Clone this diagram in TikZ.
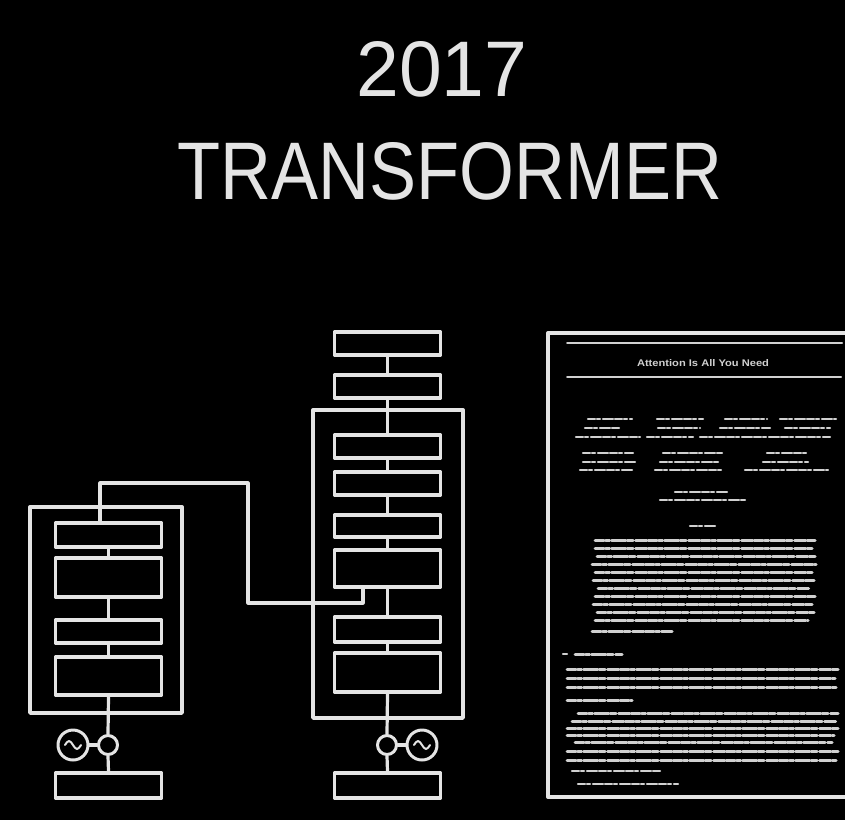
\documentclass[tikz,border=0pt]{standalone}
\usepackage{fontspec}
\setmainfont{Liberation Sans}
\usepackage{graphicx}
\usetikzlibrary{calc}
\definecolor{chalk}{HTML}{E4E4E4}
\definecolor{chalkdim}{HTML}{D0D0D0}
\begin{document}
\begin{tikzpicture}[x=1pt,y=-1pt,line cap=round,line join=round,
  blk/.style={draw=chalk,line width=3.4pt,rectangle,inner sep=0pt,minimum width=106pt},
  frm/.style={draw=chalk,line width=3.4pt,rectangle,inner sep=0pt},
  smallc/.style={draw=chalk,line width=3pt,circle,inner sep=0pt,minimum size=19pt},
  bigc/.style={draw=chalk,line width=3pt,circle,inner sep=0pt,minimum size=30pt},
  wire/.style={draw=chalk,line width=3.2pt},
  sine/.style={draw=chalk,line width=2pt},
  border/.style={draw=chalk,line width=3.4pt},
  rule/.style={draw=chalkdim,line width=2pt},
  txt/.style={draw=chalkdim,line width=3pt,dash pattern=on 9pt off 1.5pt on 4pt off 2pt on 14pt off 1.5pt on 6pt off 2.5pt on 11pt off 1.5pt},
  txts/.style={draw=chalkdim,line width=2.2pt,dash pattern=on 7pt off 2pt on 3pt off 3pt on 10pt off 2pt},
  ttl/.style={text=chalk,inner sep=0pt}]
\fill[black] (0,0) rectangle (845,820);
\useasboundingbox (0,0) rectangle (845,820);

% ---------- title ----------
\node[ttl] (year) at (442,69) {\resizebox{171pt}{55pt}{2017}};
\node[ttl] (name) at (450,171.5) {\resizebox{544pt}{57pt}{TRANSFORMER}};

% ---------- encoder ----------
\node[frm,minimum width=152pt,minimum height=206pt] (encF) at (106,610) {};
\node[blk,minimum height=24pt] (e1) at (108.5,535) {};
\node[blk,minimum height=39pt] (e2) at (108.5,577.5) {};
\node[blk,minimum height=23pt] (e3) at (108.5,631.5) {};
\node[blk,minimum height=38pt] (e4) at (108.5,676) {};
\node[smallc] (es) at (108,745) {};
\node[bigc] (eb) at (73,745) {};
\node[blk,minimum height=25pt] (e0) at (108.5,785.5) {};
\draw[wire] (e1.south) -- (e2.north);
\draw[wire] (e2.south) -- (e3.north);
\draw[wire] (e3.south) -- (e4.north);
\draw[wire] (e4.south) -- (es.north);
\draw[wire] (es.south) -- (e0.north);
\draw[wire] (eb.east) -- (es.west);
\draw[sine] ($(eb.center)+(-8,0)$) sin ($(eb.center)+(-4,-4)$) cos (eb.center) sin ($(eb.center)+(4,4)$) cos ($(eb.center)+(8,0)$);

% ---------- decoder ----------
\node[frm,minimum width=150pt,minimum height=308pt] (decF) at (388,564) {};
\node[blk,minimum height=23pt] (dA) at (387.5,343.5) {};
\node[blk,minimum height=23pt] (dB) at (387.5,386.5) {};
\node[blk,minimum height=23pt] (dC) at (387.5,446.5) {};
\node[blk,minimum height=23pt] (dD) at (387.5,483.5) {};
\node[blk,minimum height=22pt] (dE) at (387.5,526) {};
\node[blk,minimum height=37pt] (dF) at (387.5,568.5) {};
\node[blk,minimum height=25pt] (dG) at (387.5,629.5) {};
\node[blk,minimum height=39pt] (dH) at (387.5,672.5) {};
\node[smallc] (ds) at (387,745) {};
\node[bigc] (db) at (422,745) {};
\node[blk,minimum height=25pt] (d0) at (387.5,785.5) {};
\draw[wire] (dA.south) -- (dB.north);
\draw[wire] (dB.south) -- (dC.north);
\draw[wire] (dC.south) -- (dD.north);
\draw[wire] (dD.south) -- (dE.north);
\draw[wire] (dE.south) -- (dF.north);
\draw[wire] (dF.south) -- (dG.north);
\draw[wire] (dG.south) -- (dH.north);
\draw[wire] (dH.south) -- (ds.north);
\draw[wire] (ds.south) -- (d0.north);
\draw[wire] (ds.east) -- (db.west);
\draw[sine] ($(db.center)+(-8,0)$) sin ($(db.center)+(-4,-4)$) cos (db.center) sin ($(db.center)+(4,4)$) cos ($(db.center)+(8,0)$);

% ---------- encoder -> decoder link ----------
\coordinate (k1) at (100,483);
\coordinate (k2) at (248,483);
\coordinate (k3) at (248,603);
\coordinate (k4) at (363,603);
\draw[wire] (e1.north -| k1) -- (k1) -- (k2) -- (k3) -- (k4) -- (dF.south -| k4);

% ---------- paper ----------
\draw[border] (845,333) -- (548,333) -- (548,797) -- (845,797);
\draw[rule] (567,343) -- (842,343);
\node[ttl,text=chalkdim] (ptitle) at (703,363) {\resizebox{132pt}{7pt}{\bfseries Attention Is All You Need}};
\draw[rule] (567,377) -- (841,377);
% authors
\foreach \y/\a/\b in {419/588/632, 419/657/703, 419/725/767, 419/780/836,
                      428/585/620, 428/658/700, 428/720/770, 428/785/830,
                      437/576/640, 437/647/693, 437/700/830,
                      453/583/633, 453/663/722, 453/767/807,
                      462/583/635, 462/660/718, 462/763/808,
                      470/580/632, 470/655/723, 470/745/828,
                      492/675/728, 500/660/745, 526/690/717}
  \draw[txts] (\a,\y) -- (\b,\y);
% abstract
\foreach \y/\a/\b in {540/595/815, 548/595/812, 556/597/815, 564/592/816, 572/595/812,
                      580/593/815, 588/598/810, 596/595/815, 604/593/812, 612/597/814,
                      620/595/808, 631/592/672}
  \draw[txt] (\a,\y) -- (\b,\y);
% section 1
\draw[txts] (563,654) -- (567,654);
\draw[txt] (575,654) -- (622,654);
\foreach \y/\a/\b in {669/567/838, 678/567/835, 687/567/836, 700/567/632,
                      713/578/838, 721/572/836, 728/567/838, 735/567/834,
                      742/575/832, 751/567/838, 760/567/836}
  \draw[txt] (\a,\y) -- (\b,\y);
\draw[txts] (572,771) -- (660,771);
\draw[txts] (578,784) -- (678,784);
\end{tikzpicture}
\end{document}
